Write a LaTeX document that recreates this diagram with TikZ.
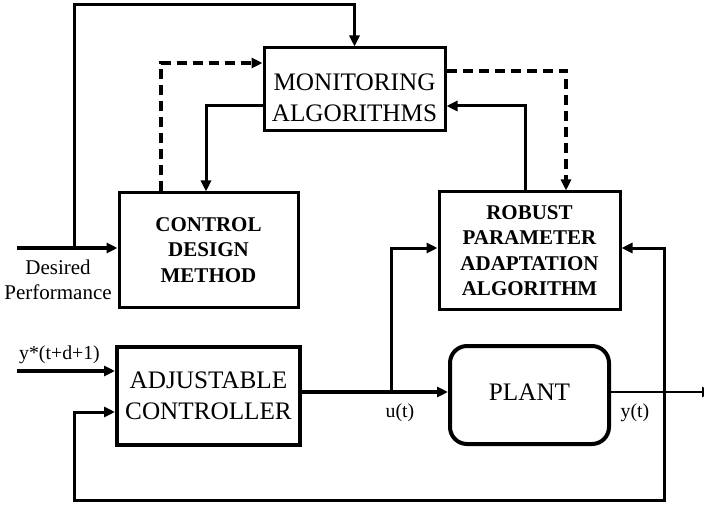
\documentclass[tikz,border=0pt]{standalone}
\usepackage{fontspec}
\setmainfont{Liberation Serif}
\usetikzlibrary{arrows.meta}
\begin{document}
\begin{tikzpicture}[x=1pt,y=-1pt,
  box/.style={draw,line width=3pt,inner sep=0pt,align=center},
  bigtxt/.style={font=\fontsize{25.2}{31}\selectfont},
  boldtxt/.style={font=\fontsize{21}{25.5}\selectfont\bfseries},
  lbltxt/.style={font=\fontsize{19.8}{25}\selectfont,inner sep=0pt,align=center},
  tip/.style={-{Triangle[length=11pt,width=10pt]}},
  conn/.style={line width=3pt,tip},
  dconn/.style={line width=3.2pt,tip,dash pattern=on 10pt off 6pt},
  inconn/.style={line width=4pt,tip},
  outconn/.style={line width=2.3pt,tip}]
\useasboundingbox (0,0) rectangle (704,505);
% boxes
\node[box,minimum width=181pt,minimum height=83pt] (mon) at (354.5,89.5) {};
\node[bigtxt,align=center,inner sep=0pt] (montxt) at (354.5,98) {MONITORING\\ALGORITHMS};
\node[box,boldtxt,minimum width=179pt,minimum height=114pt] (cdm) at (208.5,250) {CONTROL\\DESIGN\\METHOD};
\node[box,boldtxt,minimum width=181pt,minimum height=117pt] (rob) at (529.5,250.5) {ROBUST\\PARAMETER\\ADAPTATION\\ALGORITHM};
\node[box,bigtxt,line width=4pt,minimum width=183pt,minimum height=98pt] (adj) at (208.5,396) {ADJUSTABLE\\CONTROLLER};
\node[box,line width=4pt,rounded corners=17pt,minimum width=159pt,minimum height=98pt] (plant) at (529.5,395) {};
\node[bigtxt,inner sep=0pt] (planttxt) at (529.5,392) {PLANT};
% labels
\node[lbltxt,font=\fontsize{21}{25}\selectfont] (dp) at (58,280) {Desired\\Performance};
\node[lbltxt] (ystar) at (59.5,355) {y*(t+d+1)};
\node[lbltxt] (ut) at (400,413) {u(t)};
\node[lbltxt] (yt) at (635,413) {y(t)};
% coordinates
\coordinate (din) at (17,248);
\coordinate (dpj) at (74,248);
\coordinate (ys) at (17,371);
\coordinate (uy) at (391,392);
\coordinate (yb) at (664,392);
\coordinate (yout) at (713,392);
% connectors
\draw[inconn] (din) -- (din -| cdm.west);
\draw[conn] (dpj) |- (mon.north |- 0,5) -- (mon.north);
\draw[dconn] ([xshift=-47.5pt]cdm.north) |- (mon.west |- 0,63);
\draw[conn] (mon.west |- 0,106) -| ([xshift=-2.5pt]cdm.north);
\draw[dconn] (mon.east |- 0,71) -| ([xshift=36.5pt]rob.north);
\draw[conn] ([xshift=-4.5pt]rob.north) |- (mon.east |- 0,106);
\draw[line width=4.5pt,tip] (adj.east |- uy) -- (plant.west |- uy);
\draw[conn] (uy) |- (rob.west |- 0,248);
\draw[outconn] (plant.east |- uy) -- (yout);
\draw[conn] (yb) |- (rob.east |- 0,248);
\draw[conn] (yb) |- (74,500) |- (adj.west |- 0,412);
\draw[inconn] (ys) -- (ys -| adj.west);
\end{tikzpicture}
\end{document}
